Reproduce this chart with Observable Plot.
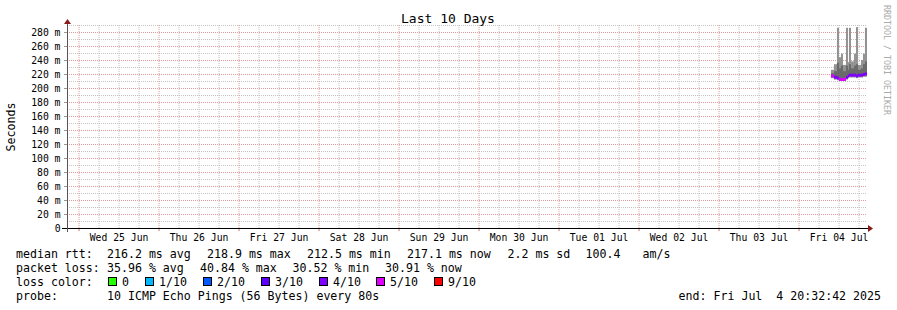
<!DOCTYPE html>
<html><head><meta charset="utf-8">
<script src="https://cdn.jsdelivr.net/npm/d3@7"></script>
<script src="https://cdn.jsdelivr.net/npm/@observablehq/plot@0.6"></script>
<style>
html,body{margin:0;padding:0;background:#fff;}
#chart svg{display:block;}
</style></head><body><div id="chart"></div>
<script>
// ---- data ----
const titleText = "Last 10 Days";
const yAxisTitle = "Seconds";
const watermark = "RRDTOOL / TOBI OETIKER";
const startTime = "2025-06-24T20:32:42Z";
const endTime = "2025-07-04T20:32:42Z";
const dayDates = ["2025-06-25","2025-06-26","2025-06-27","2025-06-28","2025-06-29","2025-06-30","2025-07-01","2025-07-02","2025-07-03","2025-07-04"];
const dayLabels = ["Wed 25 Jun","Thu 26 Jun","Fri 27 Jun","Sat 28 Jun","Sun 29 Jun","Mon 30 Jun","Tue 01 Jul","Wed 02 Jul","Thu 03 Jul","Fri 04 Jul"];
const yTicks = [0,20,40,60,80,100,120,140,160,180,200,220,240,260,280];

// smokeping samples on Fri 04 Jul (UTC clock of the graph), values in ms
const segStart  = ["09:44","10:38","11:32","12:08","12:44","13:20","14:14","14:50","15:08","15:44","16:38","17:14","17:50","18:44","19:20","19:56"];
const pingMax   = [226,234,286,244,249,233,286,237,286,238,249,287,233,240,249,286];
const pingHi    = [221,224,236,228,232,224,232,226,234,228,232,234,226,228,234,238];
const pingLo    = [216,214,213,212,212,212,214,216,217,217,217,216,217,217,218,218];
const pingMin   = [214,212,211,210,210,210,212,214,215,215,215,214,215,215,216,216];
const medianRtt = [218,216,215,213,213,213,216,218,219,219,219,218,219,219,220,221];
const lossTenths= [5,4,4,5,5,5,4,4,4,4,4,4,4,4,4,4];

const lossLevels = [0,1,2,3,4,5,9];
const lossLabels = ["0","1/10","2/10","3/10","4/10","5/10","9/10"];
const lossColors = ["#26ff00","#00b8ff","#0059ff","#5e00ff","#7e00ff","#dd00ff","#ff0000"];

const legendRtt  = ["median rtt:", "216.2 ms avg", "218.9 ms max", "212.5 ms min", "217.1 ms now", "2.2 ms sd", "100.4", "am/s"];
const legendLoss = ["packet loss:", "35.96 % avg", "40.84 % max", "30.52 % min", "30.91 % now"];
const legendLossLabel = "loss color:";
const legendProbe = ["probe:", "10 ICMP Echo Pings (56 Bytes) every 80s"];
const legendEnd = "end: Fri Jul  4 20:32:42 2025";

// ---- build ----
const FONT = "DejaVu Sans Mono";
const t0 = new Date(startTime), t1 = new Date(endTime);
const segs = segStart.map((s, i) => ({
  x1: new Date(`2025-07-04T${s}:00Z`),
  x2: i + 1 < segStart.length ? new Date(`2025-07-04T${segStart[i+1]}:00Z`) : t1,
  max: pingMax[i], hi: pingHi[i], lo: pingLo[i], min: pingMin[i],
  med: medianRtt[i], color: lossColors[lossLevels.indexOf(lossTenths[i])]
}));
const midnights = dayDates.map(d => new Date(d + "T00:00:00Z"));
const noons = dayDates.map(d => new Date(d + "T12:00:00Z"));
const sixHours = d3.utcHour.every(6).range(t0, t1).filter(d => d.getUTCHours() !== 0);
const minorY = d3.range(10, 291, 20);
const majorY = yTicks.filter(v => v > 0);

const plot = Plot.plot({
  width: 897, height: 310,
  marginLeft: 67, marginRight: 30, marginTop: 25, marginBottom: 82,
  style: {fontFamily: FONT, fontSize: "9.75px", background: "#fff", color: "#000"},
  x: {type: "utc", domain: [t0, t1]},
  y: {domain: [0, 290]},
  marks: [
    Plot.gridY(minorY, {stroke: "#c4c4c4", strokeOpacity: 1, strokeDasharray: "1,1"}),
    Plot.gridX(sixHours, {stroke: "#c4c4c4", strokeOpacity: 1, strokeDasharray: "1,1"}),
    Plot.gridY(majorY, {stroke: "#e39a9a", strokeOpacity: 1, strokeDasharray: "1,1"}),
    Plot.gridX(midnights, {stroke: "#e39a9a", strokeOpacity: 1, strokeDasharray: "1,1"}),
    Plot.rect(segs, {x1: "x1", x2: "x2", y1: "min", y2: "max", fill: "#929292", inset: 0}),
    Plot.rect(segs, {x1: "x1", x2: "x2", y1: "lo", y2: "hi", fill: "#6a6a6a", inset: 0}),
    Plot.ruleY(segs, {x1: "x1", x2: "x2", y: "med", stroke: "color", strokeWidth: 3}),
    Plot.axisY({ticks: yTicks, tickFormat: d => d === 0 ? "0" : d + " m", tickSize: 3, tickPadding: 4, stroke: "#999", label: null, fontFamily: FONT, fontSize: 9.75}),
    Plot.axisX({ticks: noons, tickFormat: (d, i) => dayLabels[i], tickSize: 0, tickPadding: 6, label: null, fontFamily: FONT, fontSize: 9.75}),
    Plot.axisX({ticks: midnights, tickFormat: () => "", tickSize: 3, stroke: "#d07070", label: null})
  ]
});
document.getElementById("chart").appendChild(plot);

const svg = d3.select(plot);
const sx = plot.scale("x"), sy = plot.scale("y");
const xL = sx.apply(t0), xR = sx.apply(t1), y0 = sy.apply(0), yTop = sy.apply(290);

// axes lines & arrows
svg.append("line").attr("x1", xL - 5).attr("x2", xR + 3).attr("y1", y0 + 0.5).attr("y2", y0 + 0.5).attr("stroke", "#000");
svg.append("line").attr("x1", xL + 0.5).attr("x2", xL + 0.5).attr("y1", y0 + 4).attr("y2", yTop - 3).attr("stroke", "#555");
svg.append("path").attr("d", `M${xL - 3},${yTop - 1} L${xL + 4},${yTop - 1} L${xL + 0.5},${yTop - 6} Z`).attr("fill", "#8b1a1a");
svg.append("path").attr("d", `M${xR + 1},${y0 - 3} L${xR + 1},${y0 + 4} L${xR + 6},${y0 + 0.5} Z`).attr("fill", "#8b1a1a");

const txt = (x, y, s, opts = {}) => svg.append("text")
  .attr("x", x).attr("y", y).attr("font-family", FONT)
  .attr("font-size", opts.size || 11.6).attr("fill", opts.fill || "#000")
  .attr("text-anchor", opts.anchor || "start")
  .attr("transform", opts.transform || null)
  .style("white-space", "pre").attr("xml:space", "preserve").text(s);

txt(448, 23, titleText, {size: 13, anchor: "middle"});
txt(0, 0, yAxisTitle, {anchor: "middle", transform: `translate(15,127) rotate(-90)`});
txt(0, 0, watermark, {size: 8.3, fill: "#aaa", transform: `translate(884,5) rotate(90)`});

const rttX = [16, 107, 207, 307, 407, 507.5, 585.5, 642.5];
legendRtt.forEach((s, i) => txt(rttX[i], 258, s));
const lossX = [16, 107, 200, 292.5, 385];
legendLoss.forEach((s, i) => txt(lossX[i], 272, s));
txt(16, 286, legendLossLabel);
const probeX = [16, 107];
legendProbe.forEach((s, i) => txt(probeX[i], 300, s));
txt(881, 300, legendEnd, {anchor: "end"});

const boxX = [108, 145, 203, 261, 319, 376, 434];
lossLabels.forEach((lab, i) => {
  svg.append("rect").attr("x", boxX[i] + 0.5).attr("y", 277.5).attr("width", 8).attr("height", 8)
    .attr("fill", lossColors[i]).attr("stroke", "#000");
  txt(boxX[i] + 14, 286, lab);
});
</script></body></html>
